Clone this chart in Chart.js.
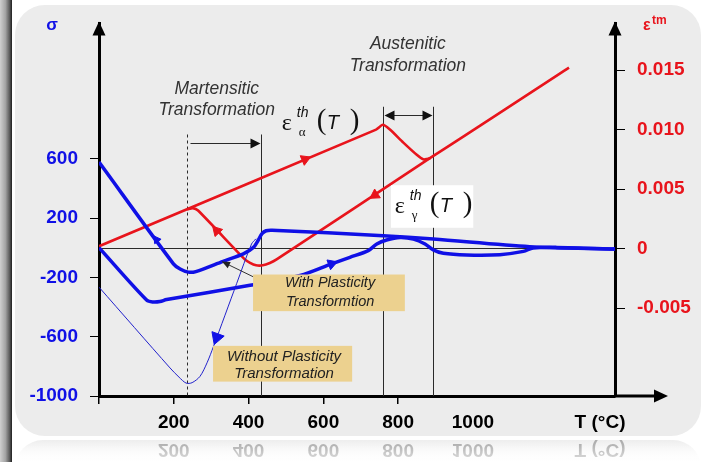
<!DOCTYPE html>
<html>
<head>
<meta charset="utf-8">
<script src="https://cdn.jsdelivr.net/npm/chart.js@4"></script>
<style>
  html, body { margin: 0; padding: 0; background: #fff; }
  canvas { display: block; }
</style>
</head>
<body>
<canvas id="chart" width="707" height="462"></canvas>
<script>
// axis ticks
const tempTicks = [0, 200, 400, 600, 800, 1000, 1340];
const tempTickLabels = ['', '200', '400', '600', '800', '1000', 'T (°C)'];
const stressTicks = [-1000, -600, -200, 200, 600];
const strainTicks = [-0.005, 0, 0.005, 0.010, 0.015];
const strainTickLabels = ['-0.005', '0', '0.005', '0.010', '0.015'];

// thermal strain (right axis): heating alpha -> gamma, cooling gamma -> martensite
const heatT = [0, 741, 759, 778, 814, 849, 867, 885, 1257];
const heatStrain = [0.0002, 0.0100, 0.0104, 0.0100, 0.0089, 0.0079, 0.0075, 0.0076, 0.0152];
const coolT = [885, 475, 457, 438, 420, 404, 390, 265, 251, 236];
const coolStrain = [0.0076, -0.0009, -0.0012, -0.0014, -0.0014, -0.0012, -0.0009, 0.0032, 0.0034, 0.0033];

// stress (left axis), with plasticity
const upperT = [0, 199, 217, 239, 259, 332, 386, 413, 425, 436, 447, 463, 760, 894, 1152, 1380];
const upperStress = [577, -109, -144, -165, -161, -92, -42, 2, 47, 94, 114, 118, 80, 58, 7, -9];
const lowerT = [0, 128, 145, 163, 181, 404, 538, 622, 671, 720, 743, 769, 805, 841, 872, 894, 921, 983, 1072, 1135, 1161, 1224, 1380];
const lowerStress = [0, -355, -366, -363, -350, -254, -187, -109, -65, -20, 25, 52, 69, 58, 25, -15, -38, -49, -47, -25, -2, 2, -9];
// stress without plasticity
const elasticT = [0, 190, 214, 233, 249, 270, 289, 306, 368, 408, 420];
const elasticStress = [-266, -811, -873, -913, -910, -868, -776, -667, -243, 25, 60];

// direction markers (angle in degrees, clockwise from up)
const redArrowT = [551, 738, 315];
const redArrowStrain = [0.0075, 0.0045, 0.0015];
const redArrowDir = [67, 237, 317];
const blueArrowT = [154, 622, 315];
const blueArrowStress = [54, -109, -605];
const blueArrowDir = [-35, 70, 200];
const blueArrowSize = [4.5, 6, 7.5];

// transformation ranges (°C)
const martensiteRange = [235, 433];
const austeniteRange = [759, 893];

const BLUE = '#1010e6';
const RED = '#e8141c';
const SANS = '"Liberation Sans", Arial, sans-serif';
const SERIF = '"Liberation Serif", "Times New Roman", serif';
const X_TICK_LEN = 8, X_TICK_PAD = 7, X_FONT = 19;

function pts(xs, ys) { return xs.map((x, i) => ({ x: x, y: ys[i] })); }

function roundRect(ctx, x, y, w, h, r) {
  ctx.beginPath();
  ctx.moveTo(x + r, y);
  ctx.arcTo(x + w, y, x + w, y + h, r);
  ctx.arcTo(x + w, y + h, x, y + h, r);
  ctx.arcTo(x, y + h, x, y, r);
  ctx.arcTo(x, y, x + w, y, r);
  ctx.closePath();
}

function arrowHead(ctx, x, y, ang, len, half) {
  ctx.save();
  ctx.translate(x, y);
  ctx.rotate(ang);
  ctx.beginPath();
  ctx.moveTo(0, 0);
  ctx.lineTo(-len, -half);
  ctx.lineTo(-len, half);
  ctx.closePath();
  ctx.fill();
  ctx.restore();
}

const background = {
  id: 'background',
  beforeDraw(chart) {
    const ctx = chart.ctx;
    ctx.save();
    ctx.fillStyle = '#fff';
    ctx.fillRect(0, 0, chart.width, chart.height);
    // reflection of panel
    let g = ctx.createLinearGradient(0, 439, 0, 462);
    g.addColorStop(0, 'rgba(228,228,228,0.7)');
    g.addColorStop(1, 'rgba(255,255,255,0.2)');
    ctx.fillStyle = g;
    roundRect(ctx, 15, 440, 686, 60, 28);
    ctx.fill();
    // panel
    ctx.fillStyle = '#ececec';
    roundRect(ctx, 15, 5, 686, 431, 30);
    ctx.fill();
    // left bevel bar
    g = ctx.createLinearGradient(0, 0, 12, 0);
    g.addColorStop(0, '#cfcfcf');
    g.addColorStop(0.45, '#a4a4a4');
    g.addColorStop(0.8, '#5a5a5a');
    g.addColorStop(1, '#1e1e1e');
    ctx.fillStyle = g;
    ctx.fillRect(0, 0, 12, chart.height);
    ctx.restore();
  }
};

const annotations = {
  id: 'annotations',
  beforeDatasetsDraw(chart) {
    const ctx = chart.ctx, a = chart.chartArea;
    const sx = chart.scales.x, sy = chart.scales.y;
    ctx.save();
    ctx.strokeStyle = '#2a2a2a';
    ctx.fillStyle = '#111';
    ctx.lineWidth = 1;
    // zero stress line
    const y0 = Math.round(sy.getPixelForValue(0)) + 0.5;
    ctx.beginPath(); ctx.moveTo(a.left, y0); ctx.lineTo(a.right, y0); ctx.stroke();
    // martensitic range
    const m0 = Math.round(sx.getPixelForValue(martensiteRange[0])) + 0.5;
    const m1 = Math.round(sx.getPixelForValue(martensiteRange[1])) + 0.5;
    const mTop = sy.getPixelForValue(763);
    ctx.setLineDash([3, 3]);
    ctx.beginPath(); ctx.moveTo(m0, mTop); ctx.lineTo(m0, a.bottom); ctx.stroke();
    ctx.setLineDash([]);
    ctx.beginPath(); ctx.moveTo(m1, mTop); ctx.lineTo(m1, a.bottom); ctx.stroke();
    const mY = Math.round(sy.getPixelForValue(709)) + 0.5;
    ctx.beginPath(); ctx.moveTo(m0 + 3, mY); ctx.lineTo(m1 - 4, mY); ctx.stroke();
    arrowHead(ctx, m1 - 1, mY, 0, 10, 5);
    // austenitic range
    const g0 = Math.round(sx.getPixelForValue(austeniteRange[0])) + 0.5;
    const g1 = Math.round(sx.getPixelForValue(austeniteRange[1])) + 0.5;
    const gTop = sy.getPixelForValue(950);
    ctx.beginPath(); ctx.moveTo(g0, gTop); ctx.lineTo(g0, a.bottom); ctx.stroke();
    ctx.beginPath(); ctx.moveTo(g1, gTop); ctx.lineTo(g1, a.bottom); ctx.stroke();
    const gY = Math.round(sy.getPixelForValue(896)) + 0.5;
    ctx.beginPath(); ctx.moveTo(g0 + 4, gY); ctx.lineTo(g1 - 4, gY); ctx.stroke();
    arrowHead(ctx, g0 + 1, gY, Math.PI, 10, 5);
    arrowHead(ctx, g1 - 1, gY, 0, 10, 5);
    ctx.restore();
  },
  afterDatasetsDraw(chart) {
    const ctx = chart.ctx;
    const sx = chart.scales.x, sy = chart.scales.y;
    const X = v => sx.getPixelForValue(v), Y = v => sy.getPixelForValue(v);
    ctx.save();
    // pointer from label to curve
    const p0 = [X(449), Y(-241)], p1 = [X(329), Y(-94)];
    ctx.strokeStyle = '#333'; ctx.fillStyle = '#222'; ctx.lineWidth = 1;
    ctx.beginPath(); ctx.moveTo(p0[0], p0[1]); ctx.lineTo(p1[0], p1[1]); ctx.stroke();
    arrowHead(ctx, p1[0], p1[1], Math.atan2(p1[1] - p0[1], p1[0] - p0[0]), 8, 3.5);

    // tan label boxes
    ctx.fillStyle = '#ecd18f';
    ctx.fillRect(X(412), Y(-181), X(818) - X(412), Y(-428) - Y(-181));
    ctx.fillRect(X(305), Y(-662), X(677) - X(305), Y(-903) - Y(-662));
    ctx.fillStyle = '#222';
    ctx.textAlign = 'center'; ctx.textBaseline = 'middle';
    ctx.font = 'italic 14.5px ' + SANS;
    ctx.fillText('With Plasticity', X(618), Y(-241));
    ctx.fillText('Transformtion', X(618), Y(-368));
    ctx.font = 'italic 15px ' + SANS;
    ctx.fillText('Without Plasticity', X(495), Y(-736));
    ctx.fillText('Transformation', X(495), Y(-849));

    // transformation titles
    ctx.fillStyle = '#333';
    ctx.font = 'italic 17.5px ' + SANS;
    ctx.fillText('Martensitic', X(315), Y(1070));
    ctx.fillText('Transformation', X(315), Y(930));
    ctx.fillText('Austenitic', X(826), Y(1371));
    ctx.fillText('Transformation', X(826), Y(1224));

    // white box behind gamma label
    ctx.fillStyle = '#fff';
    ctx.fillRect(X(781), Y(421), X(1001) - X(781), Y(134) - Y(421));

    // thermal strain labels
    function epsLabel(x, y, sub) {
      ctx.fillStyle = '#111';
      ctx.textAlign = 'left'; ctx.textBaseline = 'alphabetic';
      ctx.font = '24px ' + SERIF;
      ctx.fillText('\u03b5', x, y);
      ctx.font = 'italic 14px ' + SANS;
      ctx.fillText('th', x + 15, y - 13);
      ctx.font = '13px ' + SERIF;
      ctx.fillText(sub, x + 17, y + 6);
      ctx.font = '29px ' + SERIF;
      ctx.fillText('(', x + 35, y - 1);
      ctx.fillText(')', x + 68, y - 1);
      ctx.font = 'italic 20px ' + SANS;
      ctx.fillText('T', x + 45, y - 1);
    }
    epsLabel(X(489), Y(796), '\u03b1');
    epsLabel(X(791), Y(234), '\u03b3');
    ctx.restore();
  },
  afterDraw(chart) {
    const ctx = chart.ctx, a = chart.chartArea;
    const sx = chart.scales.x;
    ctx.save();
    ctx.fillStyle = '#000'; ctx.strokeStyle = '#000';
    // axis arrows
    ctx.lineWidth = 3;
    ctx.beginPath(); ctx.moveTo(a.right, a.bottom); ctx.lineTo(a.right + 42, a.bottom); ctx.stroke();
    arrowHead(ctx, a.right + 53, a.bottom, 0, 14, 6.5);
    arrowHead(ctx, a.left, a.top - 2, -Math.PI / 2, 14, 6.5);
    arrowHead(ctx, a.right, a.top - 2, -Math.PI / 2, 14, 6.5);
    // axis titles
    ctx.textAlign = 'center'; ctx.textBaseline = 'alphabetic';
    ctx.fillStyle = BLUE;
    ctx.font = 'bold 17px ' + SANS;
    ctx.fillText('\u03c3', a.left - 47, a.top + 7);
    ctx.fillStyle = RED;
    ctx.textAlign = 'left';
    ctx.font = 'bold 16px ' + SANS;
    ctx.fillText('\u03b5', a.right + 28, a.top + 7);
    ctx.font = 'bold 12px ' + SANS;
    ctx.fillText('tm', a.right + 37, a.top + 1);

    // reflection of the temperature labels
    const mirror = 436;
    const labelY = sx.top + X_TICK_LEN + X_TICK_PAD + X_FONT * 0.6;
    ctx.save();
    ctx.translate(0, 2 * mirror);
    ctx.scale(1, -1);
    ctx.font = 'bold ' + X_FONT + 'px ' + SANS;
    ctx.textAlign = 'center'; ctx.textBaseline = 'middle';
    ctx.fillStyle = 'rgba(0,0,0,0.27)';
    tempTicks.forEach((v, i) => ctx.fillText(tempTickLabels[i], sx.getPixelForValue(v), labelY));
    ctx.restore();
    const g = ctx.createLinearGradient(0, 444, 0, 462);
    g.addColorStop(0, 'rgba(255,255,255,0)');
    g.addColorStop(1, 'rgba(255,255,255,0.5)');
    ctx.fillStyle = g;
    ctx.fillRect(12, 437, chart.width - 12, 25);
    ctx.restore();
  }
};

const ctx = document.getElementById('chart').getContext('2d');
new Chart(ctx, {
  type: 'line',
  data: {
    datasets: [
      {
        data: pts(blueArrowT, blueArrowStress), yAxisID: 'y', showLine: false,
        pointStyle: 'triangle', pointRadius: blueArrowSize, pointRotation: blueArrowDir,
        pointBackgroundColor: BLUE, pointBorderColor: BLUE, pointBorderWidth: 1
      },
      {
        data: pts(redArrowT, redArrowStrain), yAxisID: 'y2', showLine: false,
        pointStyle: 'triangle', pointRadius: 6, pointRotation: redArrowDir,
        pointBackgroundColor: RED, pointBorderColor: RED, pointBorderWidth: 1
      },
      { data: pts(upperT, upperStress), yAxisID: 'y', borderColor: BLUE, borderWidth: 3.5, tension: 0.3, pointRadius: 0 },
      { data: pts(lowerT, lowerStress), yAxisID: 'y', borderColor: BLUE, borderWidth: 3.5, tension: 0.3, pointRadius: 0 },
      { data: pts(elasticT, elasticStress), yAxisID: 'y', borderColor: '#2222cc', borderWidth: 1, tension: 0.3, pointRadius: 0 },
      { data: pts(heatT, heatStrain), yAxisID: 'y2', borderColor: RED, borderWidth: 2.6, tension: 0.2, pointRadius: 0 },
      { data: pts(coolT, coolStrain), yAxisID: 'y2', borderColor: RED, borderWidth: 2.6, tension: 0.2, pointRadius: 0 }
    ]
  },
  options: {
    responsive: false,
    animation: false,
    devicePixelRatio: 1,
    layout: { padding: { top: 21, left: 0, right: 0, bottom: 0 } },
    plugins: { legend: { display: false }, tooltip: { enabled: false } },
    scales: {
      x: {
        type: 'linear', min: 0, max: 1380,
        afterBuildTicks: s => { s.ticks = tempTicks.map(v => ({ value: v })); },
        afterFit: s => { s.height = 66; },
        ticks: {
          autoSkip: false, maxRotation: 0, padding: X_TICK_PAD, color: '#000',
          font: { family: SANS, size: X_FONT, weight: 'bold' },
          callback: (v, i) => tempTickLabels[i]
        },
        grid: {
          drawOnChartArea: false, drawTicks: true, tickLength: X_TICK_LEN, lineWidth: 1.5,
          color: c => (c.tick && c.tick.value <= 800) ? '#000' : 'rgba(0,0,0,0)'
        },
        border: { color: '#000', width: 3 }
      },
      y: {
        type: 'linear', position: 'left', min: -1000, max: 1512,
        afterBuildTicks: s => { s.ticks = stressTicks.map(v => ({ value: v })); },
        afterFit: s => { s.width = 99; },
        ticks: {
          padding: 12, color: BLUE, font: { family: SANS, size: 19, weight: 'bold' },
          callback: v => String(v)
        },
        grid: { drawOnChartArea: false, drawTicks: true, tickLength: 9, color: '#000', lineWidth: 1 },
        border: { color: '#000', width: 3 }
      },
      y2: {
        type: 'linear', position: 'right', min: -0.012375, max: 0.018917,
        afterBuildTicks: s => { s.ticks = strainTicks.map(v => ({ value: v })); },
        afterFit: s => { s.width = 92; },
        ticks: {
          padding: 12, color: RED, font: { family: SANS, size: 19, weight: 'bold' },
          callback: (v, i) => strainTickLabels[i]
        },
        grid: { drawOnChartArea: false, drawTicks: true, tickLength: 10, color: '#000', lineWidth: 1 },
        border: { color: '#000', width: 3 }
      }
    }
  },
  plugins: [background, annotations]
});
</script>
</body>
</html>
